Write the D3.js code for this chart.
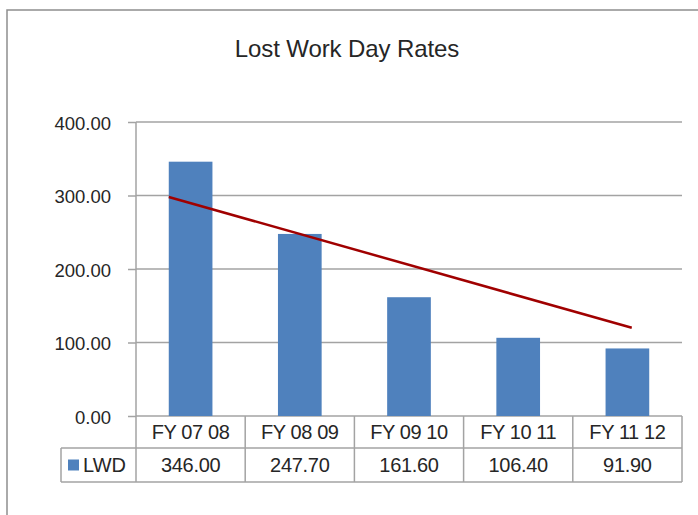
<!DOCTYPE html>
<html>
<head>
<meta charset="utf-8">
<script src="https://cdnjs.cloudflare.com/ajax/libs/d3/7.8.5/d3.min.js"></script>
<style>
  body { margin: 0; background: #fff; }
  svg { display: block; font-family: "Liberation Sans", Arial, sans-serif; }
</style>
</head>
<body>
<div id="canvas"></div>
<script>
const chartTitle = "Lost Work Day Rates";
const seriesName = "LWD";
const categories = ["FY 07 08", "FY 08 09", "FY 09 10", "FY 10 11", "FY 11 12"];
const lwd = [346.00, 247.70, 161.60, 106.40, 91.90];
const yTicks = [0, 100, 200, 300, 400];
// hand drawn trend line: ends as (category index, value)
const trendIdx = [-0.2, 4.04];
const trendVal = [298, 120];

const w = 698;
const h = 515;
const margin = {
  top: 122,
  left: 136,
  right: 16,
  bottom: 99
}
const rowH = [32, 34];   // data table rows
const tableLeft = 61;
const gray = "#a3a3a3";
const ink = "#262626";

const width = w - (margin.left + margin.right);
const height = h - (margin.top + margin.bottom);

let svg = d3.select("#canvas")
              .append("svg")
              .attr("width", w)
              .attr("height", h)

// outer chart frame (cut off on the right and bottom)
svg.append("path")
    .attr("d", "M7," + h + "V10H" + w)
    .attr("fill", "none")
    .attr("stroke", "#8e8e8e")
    .attr("stroke-width", 1.5)

svg.append("text")
    .attr("x", 347)
    .attr("y", 57)
    .attr("text-anchor", "middle")
    .attr("font-size", 24)
    .attr("letter-spacing", -0.1)
    .attr("fill", ink)
    .text(chartTitle)

let chart = svg.append("g")
                .attr("transform", "translate(" + margin.left + "," + margin.top + ")");

let x = d3.scaleBand()
          .domain(categories)
          .range([0, width])
          .padding(0)

let y = d3.scaleLinear()
          .domain([0, 400])
          .range([height, 0])

// gridlines
chart.append("g")
      .selectAll("line")
      .data(yTicks)
      .enter()
        .append("line")
        .attr("x1", 0)
        .attr("x2", width)
        .attr("y1", d => y(d))
        .attr("y2", d => y(d))
        .attr("stroke", gray)
        .attr("stroke-width", 1.5)

// y axis labels + small ticks
let yAxis = chart.append("g")
      .call(d3.axisLeft(y)
              .tickValues(yTicks)
              .tickFormat(d3.format(".2f"))
              .tickSize(8)
              .tickPadding(17))
yAxis.select(".domain").remove()
yAxis.selectAll(".tick line").attr("stroke", gray).attr("stroke-width", 1.5)
yAxis.selectAll(".tick text")
      .attr("font-size", 18.5)
      .attr("fill", ink)
      .attr("dy", "0.4em")

// bars
chart.append("g")
      .selectAll("rect")
      .data(lwd)
      .enter()
        .append("rect")
        .attr("x", (d, i) => x(categories[i]) + x.bandwidth() * 0.3)
        .attr("width", x.bandwidth() * 0.4)
        .attr("y", d => y(d))
        .attr("height", d => y(0) - y(d))
        .attr("fill", "#4f81bd")

// trend line
let trendX = i => x(categories[0]) + x.bandwidth() / 2 + i * x.step();
chart.append("path")
      .datum(trendIdx.map((t, i) => [trendX(t), y(trendVal[i])]))
      .attr("d", d3.line())
      .attr("fill", "none")
      .attr("stroke", "#a00000")
      .attr("stroke-width", 2.5)

// data table
let table = chart.append("g")
                  .attr("transform", "translate(0," + height + ")")
const tl = tableLeft - margin.left;

table.selectAll(".hline")
      .data([rowH[0], rowH[0] + rowH[1]])
      .enter()
        .append("line")
        .attr("x1", tl)
        .attr("x2", width)
        .attr("y1", d => d)
        .attr("y2", d => d)
        .attr("stroke", gray)
        .attr("stroke-width", 1.5)

table.append("line")
      .attr("x1", tl).attr("x2", tl)
      .attr("y1", rowH[0]).attr("y2", rowH[0] + rowH[1])
      .attr("stroke", gray)
      .attr("stroke-width", 1.5)

// vertical axis line runs down through the table
chart.append("line")
      .attr("x1", 0).attr("x2", 0)
      .attr("y1", 0).attr("y2", height + rowH[0] + rowH[1])
      .attr("stroke", gray)
      .attr("stroke-width", 1.5)

table.selectAll(".vline")
      .data(categories)
      .enter()
        .append("line")
        .attr("x1", d => x(d) + x.bandwidth())
        .attr("x2", d => x(d) + x.bandwidth())
        .attr("y1", 0)
        .attr("y2", rowH[0] + rowH[1])
        .attr("stroke", gray)
        .attr("stroke-width", 1.5)

table.selectAll(".cat")
      .data(categories)
      .enter()
        .append("text")
        .attr("x", d => x(d) + x.bandwidth() / 2)
        .attr("y", rowH[0] / 2)
        .attr("dy", "0.36em")
        .attr("text-anchor", "middle")
        .attr("font-size", 20)
        .attr("letter-spacing", -0.4)
        .attr("fill", ink)
        .text(d => d)

table.selectAll(".val")
      .data(lwd)
      .enter()
        .append("text")
        .attr("x", (d, i) => x(categories[i]) + x.bandwidth() / 2)
        .attr("y", rowH[0] + rowH[1] / 2)
        .attr("dy", "0.36em")
        .attr("text-anchor", "middle")
        .attr("font-size", 20)
        .attr("letter-spacing", -0.3)
        .attr("fill", ink)
        .text(d => d3.format(".2f")(d))

// legend key in the table
table.append("rect")
      .attr("x", tl + 7)
      .attr("y", rowH[0] + rowH[1] / 2 - 5.5)
      .attr("width", 11)
      .attr("height", 11)
      .attr("fill", "#4f81bd")

table.append("text")
      .attr("x", tl + 22)
      .attr("y", rowH[0] + rowH[1] / 2)
      .attr("dy", "0.36em")
      .attr("font-size", 20)
      .attr("fill", ink)
      .text(seriesName)
</script>
</body>
</html>
